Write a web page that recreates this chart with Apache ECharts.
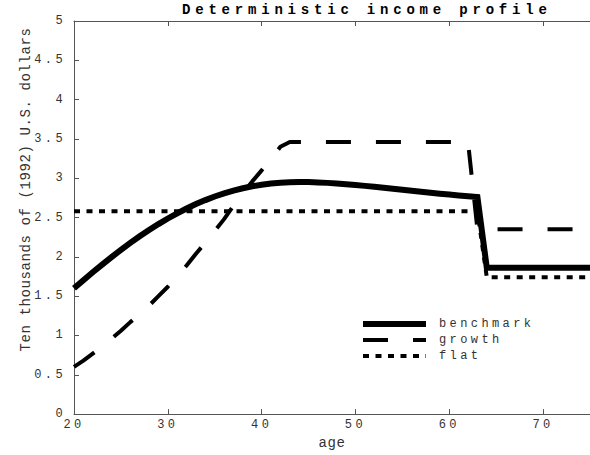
<!DOCTYPE html>
<html>
<head>
<meta charset="utf-8">
<script src="https://cdn.jsdelivr.net/npm/echarts@6/dist/echarts.min.js"></script>
<style>
html, body { margin: 0; padding: 0; background: #fff; }
#chart { width: 590px; height: 455px; }
#chart text[style*="bold"] { letter-spacing: 4.8px; }
#chart text[style*="12px"] { letter-spacing: 3.4px; }
#chart text[style*="14px"]:not([style*="bold"]) { letter-spacing: 0.6px; }
</style>
</head>
<body>
<div id="chart"></div>
<script>
var ages = [20,21,22,23,24,25,26,27,28,29,30,31,32,33,34,35,36,37,38,39,40,41,42,43,44,45,46,47,48,49,50,51,52,53,54,55,56,57,58,59,60,61,62,63,64,65,66,67,68,69,70,71,72,73,74,75];
var benchmark = [1.600,1.703,1.804,1.902,1.997,2.089,2.177,2.261,2.341,2.417,2.488,2.554,2.615,2.671,2.722,2.768,2.808,2.843,2.873,2.898,2.918,2.933,2.944,2.950,2.952,2.951,2.947,2.941,2.933,2.924,2.914,2.903,2.891,2.879,2.866,2.853,2.840,2.827,2.815,2.803,2.792,2.781,2.770,2.760,1.86,1.86,1.86,1.86,1.86,1.86,1.86,1.86,1.86,1.86,1.86,1.86];
var growth = [0.60,0.68,0.77,0.86,0.96,1.06,1.17,1.27,1.38,1.50,1.62,1.75,1.89,2.04,2.18,2.33,2.48,2.65,2.81,2.96,3.10,3.25,3.40,3.46,3.46,3.46,3.46,3.46,3.46,3.46,3.46,3.46,3.46,3.46,3.46,3.46,3.46,3.46,3.46,3.46,3.46,3.46,3.46,2.35,2.35,2.35,2.35,2.35,2.35,2.35,2.35,2.35,2.35,2.35,2.35,2.35];
var flat = [2.58,2.58,2.58,2.58,2.58,2.58,2.58,2.58,2.58,2.58,2.58,2.58,2.58,2.58,2.58,2.58,2.58,2.58,2.58,2.58,2.58,2.58,2.58,2.58,2.58,2.58,2.58,2.58,2.58,2.58,2.58,2.58,2.58,2.58,2.58,2.58,2.58,2.58,2.58,2.58,2.58,2.58,2.58,2.58,1.74,1.74,1.74,1.74,1.74,1.74,1.74,1.74,1.74,1.74,1.74,1.74];
var seriesNames = ['benchmark', 'growth', 'flat'];
var titleText = 'Deterministic income profile';
var xName = 'age';
var yName = 'Ten thousands of (1992) U.S. dollars';

function pairs(vals) { return ages.map(function (a, i) { return [a, vals[i]]; }); }

var FONT = 'Liberation Mono';
var AX = '#555';
var TXT = '#333';

var chart = echarts.init(document.getElementById('chart'), null, { renderer: 'svg' });
chart.setOption({
  animation: false,
  backgroundColor: '#fff',
  color: ['#000', '#000', '#000'],
  title: {
    text: titleText, left: 182, top: 3, padding: 0,
    textStyle: { fontFamily: FONT, fontSize: 14, fontWeight: 'bold', color: '#000' }
  },
  grid: { left: 74, right: -8, top: 21, bottom: 35, containLabel: false },
  legend: {
    orient: 'vertical', left: 360, top: 317, padding: 0,
    itemWidth: 63, itemHeight: 14, itemGap: 2,
    itemStyle: { opacity: 0 },
    textStyle: { fontFamily: FONT, fontSize: 12, color: TXT, lineHeight: 14, padding: [0, 0, 0, 8] },
    data: [
      { name: seriesNames[0], itemStyle: { opacity: 0 }, lineStyle: { width: 6, color: '#000', type: 'solid' } },
      { name: seriesNames[1], itemStyle: { opacity: 0 }, lineStyle: { width: 4, color: '#000', type: [25, 25] } },
      { name: seriesNames[2], itemStyle: { opacity: 0 }, lineStyle: { width: 4, color: '#000', type: [6, 6.5] } }
    ]
  },
  xAxis: [{
    type: 'value', min: 20, max: 75, interval: 10, position: 'bottom',
    name: xName, nameLocation: 'middle', nameGap: 18,
    nameTextStyle: { fontFamily: FONT, fontSize: 14, color: TXT },
    axisLine: { show: true, lineStyle: { color: AX, width: 1 } },
    axisTick: { show: true, inside: true, length: 5, lineStyle: { color: AX } },
    axisLabel: { margin: 5, fontFamily: FONT, fontSize: 12, color: TXT, showMaxLabel: false },
    splitLine: { show: false }
  }, {
    type: 'value', min: 20, max: 75, interval: 10, position: 'top',
    axisLine: { show: true, lineStyle: { color: AX, width: 1 } },
    axisTick: { show: true, inside: true, length: 5, lineStyle: { color: AX } },
    axisLabel: { show: false },
    splitLine: { show: false }
  }],
  yAxis: {
    type: 'value', min: 0, max: 5, interval: 0.5,
    name: yName, nameLocation: 'middle', nameGap: 41,
    nameTextStyle: { fontFamily: FONT, fontSize: 14, color: TXT, padding: [0, 0, 0, 56] },
    axisLine: { show: true, lineStyle: { color: AX, width: 1 } },
    axisTick: { show: true, inside: true, length: 5, lineStyle: { color: AX } },
    axisLabel: { margin: 8, fontFamily: FONT, fontSize: 12, color: TXT },
    splitLine: { show: false }
  },
  series: [{
    name: seriesNames[2], type: 'line', xAxisIndex: 0, data: pairs(flat),
    symbol: 'none', itemStyle: { color: '#000' },
    lineStyle: { color: '#000', width: 4, type: [6, 6.5], cap: 'butt' }, z: 2
  }, {
    name: seriesNames[1], type: 'line', xAxisIndex: 0, data: pairs(growth),
    symbol: 'none', itemStyle: { color: '#000' },
    lineStyle: { color: '#000', width: 4, type: [25, 25], cap: 'butt' }, z: 3
  }, {
    name: seriesNames[0], type: 'line', xAxisIndex: 0, data: pairs(benchmark),
    symbol: 'none', itemStyle: { color: '#000' },
    lineStyle: { color: '#000', width: 6, type: 'solid', join: 'miter' }, z: 4
  }]
});
</script>
</body>
</html>
